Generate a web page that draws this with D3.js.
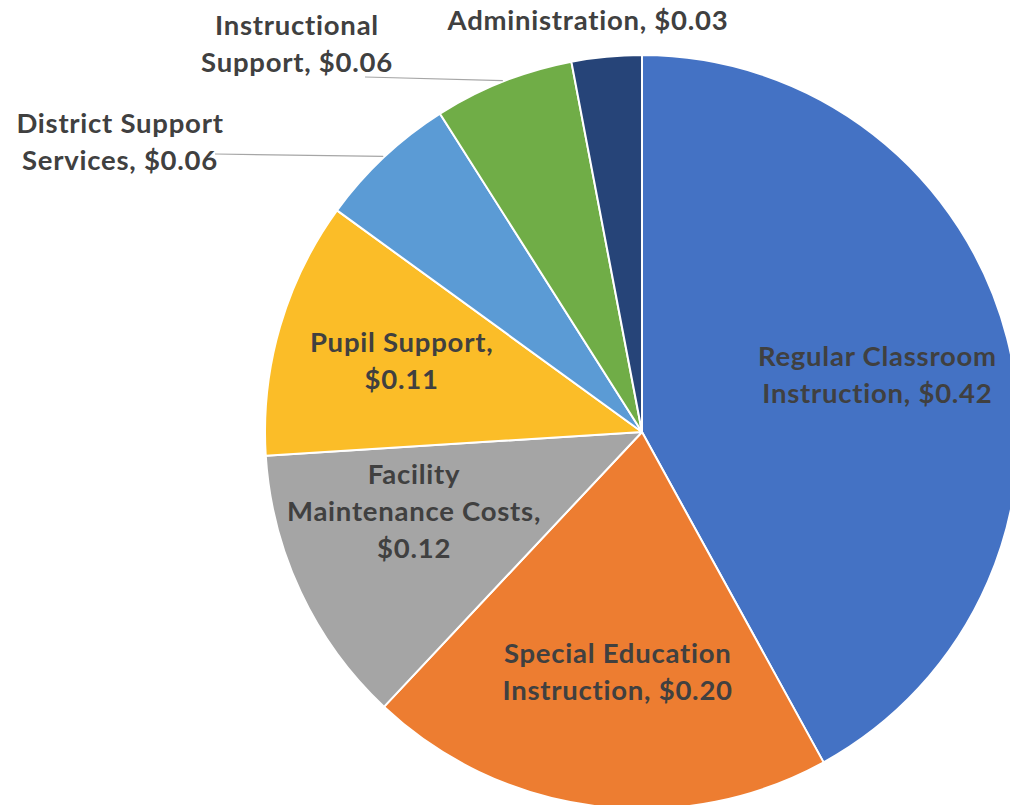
<!DOCTYPE html>
<html>
<head>
<meta charset="utf-8">
<script src="https://cdn.jsdelivr.net/npm/d3@7"></script>
<style>
  html, body { margin: 0; padding: 0; background: #fff; }
  svg { display: block; }
  text { font-family: Lato, "Open Sans", sans-serif; font-weight: 700; fill: #404040; }
</style>
</head>
<body>
<svg id="chart" width="1010" height="805"></svg>
<script>
// ---- data ----
const categories = [
  "Regular Classroom Instruction",
  "Special Education Instruction",
  "Facility Maintenance Costs",
  "Pupil Support",
  "District Support Services",
  "Instructional Support",
  "Administration"
];
const values = [0.42, 0.20, 0.12, 0.11, 0.06, 0.06, 0.03];
const labelLines = [
  ["Regular Classroom", "Instruction, $0.42"],
  ["Special Education", "Instruction, $0.20"],
  ["Facility", "Maintenance Costs,", "$0.12"],
  ["Pupil Support,", "$0.11"],
  ["District Support", "Services, $0.06"],
  ["Instructional", "Support, $0.06"],
  ["Administration, $0.03"]
];
const colors = ["#4472C4", "#ED7D31", "#A5A5A5", "#FBBD28", "#5B9BD5", "#70AD47", "#264478"];

// ---- layout (positions / styles, separate from data) ----
const cx = 642, cy = 432, R = 377;
const fontSize = 27.5, lineH = 37, letterSpacing = 0.75;
const labelLayout = [
  { inside: true, r: 242, dx: 1, dy: 4 },
  { inside: true, r: 242, dx: 6, dy: 1 },
  { inside: true, r: 242, dx: -9, dy: -22 },
  { inside: true, r: 242, dx: -8, dy: -2 },
  { inside: false, x: 120, y: 133, leader: [215, 154] },
  { inside: false, x: 297, y: 35, leader: [365, 77] },
  { inside: false, x: 588, y: 30 }
];

const svg = d3.select("#chart");
svg.append("rect").attr("width", 1010).attr("height", 805).attr("fill", "#fff");
const g = svg.append("g").attr("transform", `translate(${cx},${cy})`);

const pie = d3.pie().sort(null).value(d => d.value);
const arcs = pie(values.map((v, i) => ({ value: v, i })));
const arc = d3.arc().innerRadius(0).outerRadius(R);

g.selectAll("path.slice")
  .data(arcs)
  .join("path")
  .attr("class", "slice")
  .attr("d", arc)
  .attr("fill", d => colors[d.data.i])
  .attr("stroke", "#fff")
  .attr("stroke-width", 2)
  .attr("stroke-linejoin", "round");

// leader lines
arcs.forEach(d => {
  const L = labelLayout[d.data.i];
  if (!L.inside && L.leader) {
    const mid = (d.startAngle + d.endAngle) / 2;
    const ex = Math.sin(mid) * (R + 1), ey = -Math.cos(mid) * (R + 1);
    g.append("line")
      .attr("x1", L.leader[0] - cx).attr("y1", L.leader[1] - cy)
      .attr("x2", ex).attr("y2", ey)
      .attr("stroke", "#A6A6A6").attr("stroke-width", 1.2);
  }
});

// labels
arcs.forEach(d => {
  const i = d.data.i;
  const L = labelLayout[i];
  const lines = labelLines[i];
  let x, yTop;
  if (L.inside) {
    const c = d3.arc().innerRadius(L.r).outerRadius(L.r).centroid(d);
    x = c[0] + L.dx;
    const yc = c[1] + L.dy;
    yTop = yc - (lines.length - 1) * lineH / 2 + 8.4;
  } else {
    x = L.x - cx;
    yTop = L.y - cy;
  }
  const t = g.append("text")
    .attr("text-anchor", "middle")
    .attr("font-size", fontSize)
    .attr("letter-spacing", letterSpacing);
  lines.forEach((ln, k) => {
    t.append("tspan").attr("x", x).attr("y", yTop + k * lineH).text(ln);
  });
});
</script>
</body>
</html>
